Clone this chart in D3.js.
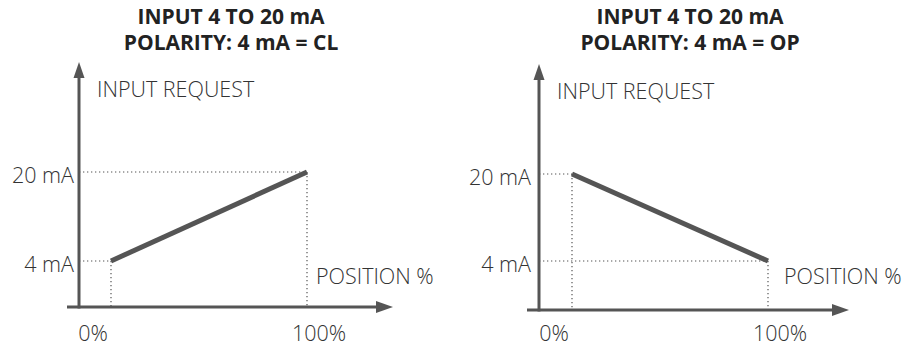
<!DOCTYPE html>
<html>
<head>
<meta charset="utf-8">
<script src="https://cdn.jsdelivr.net/npm/d3@7"></script>
<style>
  body { margin: 0; background: #fff; }
  text { font-family: "Open Sans", sans-serif; }
</style>
</head>
<body>
<svg width="907" height="345"></svg>
<script>
// data
var positions = [0, 100];                 // position %
var positionLabels = ["0%", "100%"];
var currentTicks = [4, 20];               // mA
var currentLabels = ["4 mA", "20 mA"];
var closedValues = [4, 20];               // polarity 4 mA = CL
var openValues = [20, 4];                 // polarity 4 mA = OP
var titles = [
  ["INPUT 4 TO 20 mA", "POLARITY: 4 mA = CL"],
  ["INPUT 4 TO 20 mA", "POLARITY: 4 mA = OP"]
];

var svg = d3.select("svg");
var ink = "#555",
    textInk = "#333";

// layout for each panel
var panels = [
  { values: closedValues, title: titles[0], ox: 79, oy: 307, top: 62, tip: 393, x0: 111, x1: 307, y4: 261, y20: 172, cx: 231, tickPad: 5, posPad: 9 },
  { values: openValues, title: titles[1], ox: 539, oy: 310, top: 64, tip: 849, x0: 572, x1: 768, y4: 261, y20: 174, cx: 690, tickPad: 8, posPad: 16 }
];

panels.forEach(function (p) {
  var g = svg.append("g");

  var x = d3.scaleLinear().domain([0, 100]).range([p.x0, p.x1]);
  var y = d3.scaleLinear().domain([4, 20]).range([p.y4, p.y20]);

  var pts = positions.map(function (d, i) { return [d, p.values[i]]; });

  // title
  g.append("text")
    .attr("x", p.cx)
    .attr("text-anchor", "middle")
    .attr("font-weight", 700)
    .attr("font-size", 21)
    .attr("fill", "#222")
    .selectAll("tspan")
    .data(p.title)
    .enter().append("tspan")
    .attr("x", p.cx)
    .attr("y", function (d, i) { return 24 + i * 26; })
    .text(function (d) { return d; });

  // dotted guides
  var dots = g.append("g")
    .attr("stroke", ink)
    .attr("stroke-width", 1.2)
    .attr("stroke-dasharray", "1.3,2.7");
  pts.forEach(function (d) {
    dots.append("line")
      .attr("x1", p.ox).attr("x2", x(d[0]))
      .attr("y1", y(d[1])).attr("y2", y(d[1]));
    dots.append("line")
      .attr("x1", x(d[0])).attr("x2", x(d[0]))
      .attr("y1", y(d[1])).attr("y2", p.oy);
  });

  // axes with arrows
  g.append("line")
    .attr("x1", p.ox).attr("x2", p.ox)
    .attr("y1", p.oy + 1.5).attr("y2", p.top + 12)
    .attr("stroke", ink).attr("stroke-width", 3);
  g.append("path")
    .attr("d", "M" + p.ox + "," + p.top + "L" + (p.ox + 5.5) + "," + (p.top + 16) + "L" + (p.ox - 5.5) + "," + (p.top + 16) + "Z")
    .attr("fill", ink);
  var tip = p.tip;
  g.append("line")
    .attr("x1", p.ox - 12).attr("x2", tip - 12)
    .attr("y1", p.oy).attr("y2", p.oy)
    .attr("stroke", ink).attr("stroke-width", 3);
  g.append("path")
    .attr("d", "M" + tip + "," + p.oy + "L" + (tip - 17) + "," + (p.oy - 6) + "L" + (tip - 17) + "," + (p.oy + 6) + "Z")
    .attr("fill", ink);

  // the line
  g.append("path")
    .datum(pts)
    .attr("d", d3.line().x(function (d) { return x(d[0]); }).y(function (d) { return y(d[1]); }))
    .attr("fill", "none")
    .attr("stroke", ink)
    .attr("stroke-width", 5);

  // labels
  var lab = g.append("g")
    .attr("font-size", 21.5)
    .attr("font-weight", 300)
    .attr("fill", textInk);

  lab.selectAll(".ytick")
    .data(currentTicks)
    .enter().append("text")
    .attr("x", p.ox - p.tickPad)
    .attr("y", function (d) { return y(d) + 11; })
    .attr("text-anchor", "end")
    .text(function (d, i) { return currentLabels[i]; });

  lab.selectAll(".xtick")
    .data(positions)
    .enter().append("text")
    .attr("x", function (d, i) { return x(d) + (i == 0 ? -18 : 12); })
    .attr("y", 341)
    .attr("text-anchor", "middle")
    .text(function (d, i) { return positionLabels[i]; });

  lab.append("text")
    .attr("x", p.ox + 18)
    .attr("y", p.top + 35)
    .text("INPUT REQUEST");

  lab.append("text")
    .attr("x", x(100) + p.posPad)
    .attr("y", p.y4 + 23)
    .text("POSITION %");
});
</script>
</body>
</html>
